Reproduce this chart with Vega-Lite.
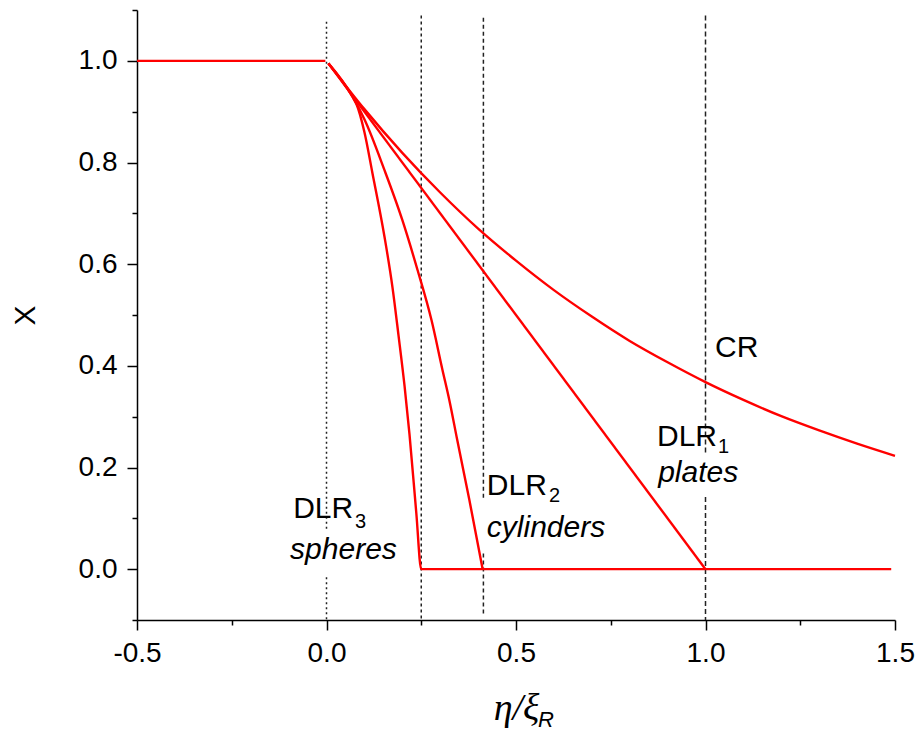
{
  "$schema": "https://vega.github.io/schema/vega-lite/v6.json",
  "width": 758,
  "height": 610,
  "autosize": {"type": "none"},
  "padding": {"left": 137, "top": 10, "right": 26, "bottom": 113},
  "background": "white",
  "config": {"view": {"stroke": null}, "font": "Liberation Sans"},
  "datasets": {
    "curves": [
      {"series": "step", "x": -0.5, "y": 1.0},
      {"series": "step", "x": -0.003, "y": 1.0},
      {"series": "CR", "x": 0.005, "y": 0.995},
      {"series": "CR", "x": 0.1, "y": 0.905},
      {"series": "CR", "x": 0.2, "y": 0.819},
      {"series": "CR", "x": 0.3, "y": 0.741},
      {"series": "CR", "x": 0.4, "y": 0.670},
      {"series": "CR", "x": 0.5, "y": 0.607},
      {"series": "CR", "x": 0.6, "y": 0.549},
      {"series": "CR", "x": 0.7, "y": 0.497},
      {"series": "CR", "x": 0.8, "y": 0.449},
      {"series": "CR", "x": 0.9, "y": 0.407},
      {"series": "CR", "x": 1.0, "y": 0.368},
      {"series": "CR", "x": 1.1, "y": 0.333},
      {"series": "CR", "x": 1.2, "y": 0.301},
      {"series": "CR", "x": 1.3, "y": 0.273},
      {"series": "CR", "x": 1.4, "y": 0.247},
      {"series": "CR", "x": 1.5, "y": 0.223},
      {"series": "DLR1", "x": 0.005, "y": 0.995},
      {"series": "DLR1", "x": 1.0, "y": 0.0},
      {"series": "DLR2", "x": 0.005, "y": 0.995},
      {"series": "DLR2", "x": 0.069, "y": 0.929},
      {"series": "DLR2", "x": 0.1, "y": 0.885},
      {"series": "DLR2", "x": 0.153, "y": 0.785},
      {"series": "DLR2", "x": 0.2, "y": 0.687},
      {"series": "DLR2", "x": 0.24, "y": 0.589},
      {"series": "DLR2", "x": 0.277, "y": 0.49},
      {"series": "DLR2", "x": 0.306, "y": 0.392},
      {"series": "DLR2", "x": 0.324, "y": 0.333},
      {"series": "DLR2", "x": 0.345, "y": 0.254},
      {"series": "DLR2", "x": 0.377, "y": 0.136},
      {"series": "DLR2", "x": 0.412, "y": 0.0},
      {"series": "DLR3", "x": 0.005, "y": 0.995},
      {"series": "DLR3", "x": 0.069, "y": 0.929},
      {"series": "DLR3", "x": 0.079, "y": 0.915},
      {"series": "DLR3", "x": 0.1, "y": 0.86},
      {"series": "DLR3", "x": 0.121, "y": 0.78},
      {"series": "DLR3", "x": 0.153, "y": 0.654},
      {"series": "DLR3", "x": 0.174, "y": 0.555},
      {"series": "DLR3", "x": 0.19, "y": 0.46},
      {"series": "DLR3", "x": 0.206, "y": 0.36},
      {"series": "DLR3", "x": 0.219, "y": 0.265},
      {"series": "DLR3", "x": 0.237, "y": 0.11},
      {"series": "DLR3", "x": 0.25, "y": 0.0},
      {"series": "DLR3", "x": 1.49, "y": 0.0}
    ],
    "guides": [
      {"x": 0.0, "y": 1.077, "y2": 0.077, "style": "a"},
      {"x": 0.0, "y": -0.016, "y2": -0.1, "style": "a"},
      {"x": 0.25, "y": 1.089, "y2": -0.1, "style": "b"},
      {"x": 0.414, "y": 1.085, "y2": 0.136, "style": "c"},
      {"x": 0.414, "y": 0.031, "y2": -0.087, "style": "c"},
      {"x": 1.0, "y": 1.089, "y2": 0.225, "style": "d"},
      {"x": 1.0, "y": 0.142, "y2": -0.1, "style": "d"}
    ],
    "names": [
      {"x": 1.025, "y": 0.417, "label": "CR"},
      {"x": 0.872, "y": 0.242, "label": "DLR"},
      {"x": 0.423, "y": 0.146, "label": "DLR"},
      {"x": -0.088, "y": 0.100, "label": "DLR"}
    ],
    "subs": [
      {"x": 1.033, "y": 0.228, "label": "1"},
      {"x": 0.587, "y": 0.132, "label": "2"},
      {"x": 0.075, "y": 0.081, "label": "3"}
    ],
    "shapes": [
      {"x": 0.875, "y": 0.171, "label": "plates"},
      {"x": 0.423, "y": 0.063, "label": "cylinders"},
      {"x": -0.096, "y": 0.02, "label": "spheres"}
    ],
    "titlesub": [
      {"x": 0.558, "y": -0.311, "label": "R"}
    ]
  },
  "encoding": {
    "x": {
      "field": "x",
      "type": "quantitative",
      "scale": {"domain": [-0.5, 1.5], "nice": false, "zero": false},
      "axis": {
        "values": [-0.5, -0.25, 0, 0.25, 0.5, 0.75, 1, 1.25, 1.5],
        "labelExpr": "round(datum.value*4) % 2 == 0 ? replace(format(datum.value, '.1f'), '\u2212', '-') : ''",
        "tickSize": {"condition": {"test": "round(datum.value*4) % 2 == 0", "value": 10}, "value": 5},
        "grid": false,
        "domainColor": "black",
        "domainWidth": 1.5,
        "tickColor": "black",
        "tickWidth": 1.5,
        "labelFont": "Liberation Sans",
        "labelFontSize": 28,
        "labelColor": "black",
        "labelPadding": 9,
        "labelFlush": false,
        "labelOverlap": false,
        "title": "η/ξ",
        "titleFont": "Liberation Serif",
        "titleFontStyle": "italic",
        "titleFontWeight": "normal",
        "titleFontSize": 38,
        "titleColor": "black",
        "titlePadding": 22
      }
    },
    "y": {
      "field": "y",
      "type": "quantitative",
      "scale": {"domain": [-0.1, 1.1], "nice": false, "zero": false},
      "axis": {
        "values": [-0.1, 0, 0.1, 0.2, 0.3, 0.4, 0.5, 0.6, 0.7, 0.8, 0.9, 1.0, 1.1],
        "labelExpr": "round(datum.value*10) % 2 == 0 ? replace(format(datum.value, '.1f'), '\u2212', '-') : ''",
        "tickSize": {"condition": {"test": "round(datum.value*10) % 2 == 0", "value": 10}, "value": 5},
        "grid": false,
        "domainColor": "black",
        "domainWidth": 1.5,
        "tickColor": "black",
        "tickWidth": 1.5,
        "labelFont": "Liberation Sans",
        "labelFontSize": 28,
        "labelColor": "black",
        "labelPadding": 10,
        "labelOverlap": false,
        "labelFlush": false,
        "title": "X",
        "titleFont": "Liberation Sans",
        "titleFontWeight": "normal",
        "titleFontSize": 30,
        "titleColor": "black",
        "titlePadding": 38
      }
    }
  },
  "layer": [
    {
      "data": {"name": "guides"},
      "mark": {"type": "rule", "color": "#222222", "strokeWidth": 1.5},
      "encoding": {
        "y2": {"field": "y2"},
        "strokeDash": {
          "field": "style",
          "type": "nominal",
          "scale": {"domain": ["a", "b", "c", "d"], "range": [[2, 3], [3, 3], [4, 3], [5, 3]]},
          "legend": null
        }
      }
    },
    {
      "data": {"name": "curves"},
      "mark": {"type": "line", "color": "#ff0000", "strokeWidth": 2.4, "interpolate": "monotone"},
      "encoding": {
        "detail": {"field": "series", "type": "nominal"}
      }
    },
    {
      "data": {"name": "names"},
      "mark": {"type": "text", "align": "left", "baseline": "alphabetic", "fontSize": 30, "font": "Liberation Sans", "color": "black"},
      "encoding": {"text": {"field": "label"}}
    },
    {
      "data": {"name": "subs"},
      "mark": {"type": "text", "align": "left", "baseline": "alphabetic", "fontSize": 20, "font": "Liberation Sans", "color": "black"},
      "encoding": {"text": {"field": "label"}}
    },
    {
      "data": {"name": "shapes"},
      "mark": {"type": "text", "align": "left", "baseline": "alphabetic", "fontSize": 30, "fontStyle": "italic", "font": "Liberation Sans", "color": "black"},
      "encoding": {"text": {"field": "label"}}
    },
    {
      "data": {"name": "titlesub"},
      "mark": {"type": "text", "align": "left", "baseline": "alphabetic", "fontSize": 22, "fontStyle": "italic", "font": "Liberation Sans", "color": "black"},
      "encoding": {"text": {"field": "label"}}
    }
  ]
}
